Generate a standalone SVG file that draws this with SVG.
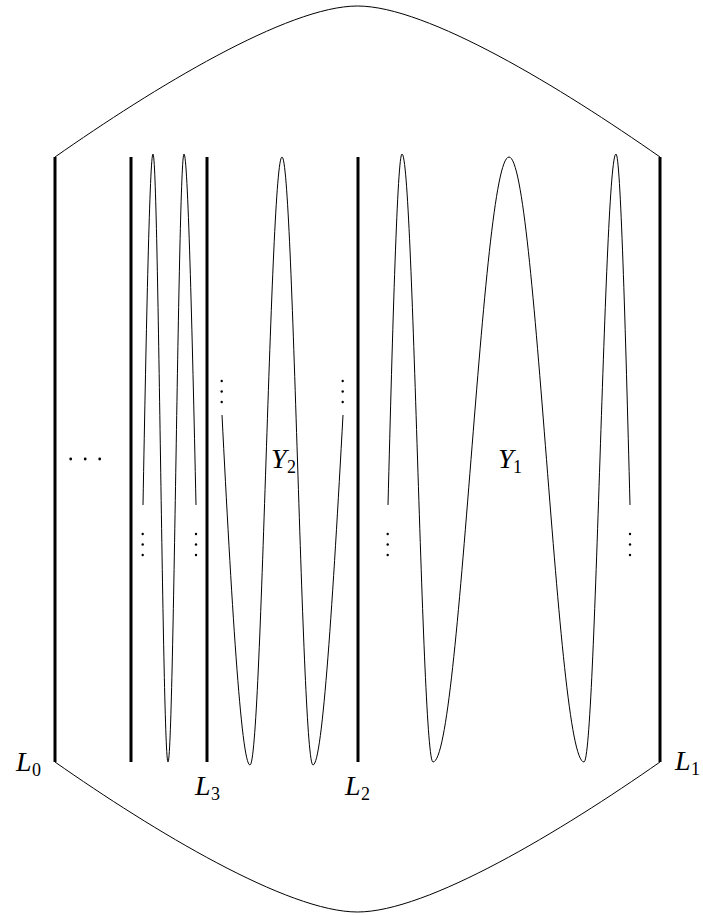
<svg xmlns="http://www.w3.org/2000/svg" width="703" height="915" viewBox="0 0 703 915">
<style>
.thick{stroke:#000;stroke-width:3;fill:none}
.thin{stroke:#000;stroke-width:1;fill:none}
.lab{font-family:"Liberation Serif","DejaVu Serif",serif;font-size:28px;font-style:italic;fill:#000}
.sub{font-family:"Liberation Serif","DejaVu Serif",serif;font-size:18px;font-style:normal;fill:#000}
.dot{fill:#000}
</style>
<rect width="703" height="915" fill="#fff"/>
<g id="connectors">
<path class="thin" d="M55,157 C153.3,88.2 287.5,6 357.5,6 C427.5,6 561.7,88.2 660,157"/>
<path class="thin" d="M55,762 C153.3,830.8 287.5,912 357.5,912 C427.5,912 561.7,830.8 660,762"/>
</g>
<g id="L0"><line class="thick" x1="55" y1="157" x2="55" y2="762"/><text class="lab"><tspan x="16" y="771">L</tspan><tspan class="sub" x="32" y="776">0</tspan></text></g>
<g id="Lx"><line class="thick" x1="131" y1="157" x2="131" y2="762"/></g>
<g id="L3"><line class="thick" x1="207" y1="157" x2="207" y2="762"/><text class="lab"><tspan x="195" y="795">L</tspan><tspan class="sub" x="211" y="800">3</tspan></text></g>
<g id="L2"><line class="thick" x1="358" y1="157" x2="358" y2="762"/><text class="lab"><tspan x="345" y="795">L</tspan><tspan class="sub" x="361" y="800">2</tspan></text></g>
<g id="L1"><line class="thick" x1="660" y1="157" x2="660" y2="762"/><text class="lab"><tspan x="675" y="770">L</tspan><tspan class="sub" x="691" y="775">1</tspan></text></g>
<g id="dots0">
<circle class="dot" cx="70.7" cy="459" r="1.4"/><circle class="dot" cx="85.2" cy="459" r="1.4"/><circle class="dot" cx="99.7" cy="459" r="1.4"/>
</g>
<g id="Y3">
<path class="thin" d="M143,505 C146.3,325.3 149.8,154 153,154 C158.5,154 162.5,762 168,762 C173.8,762 178.2,154 184,154 C187.8,154 192.1,325.3 196,505"/>
<circle class="dot" cx="142.7" cy="534" r="1.2"/><circle class="dot" cx="142.7" cy="544.5" r="1.2"/><circle class="dot" cx="142.7" cy="555" r="1.2"/>
<circle class="dot" cx="196" cy="534" r="1.2"/><circle class="dot" cx="196" cy="544.5" r="1.2"/><circle class="dot" cx="196" cy="555" r="1.2"/>
</g>
<g id="Y2">
<path class="thin" d="M222,415 C231.1,594.2 241.1,765 250,765 C261.6,765 270.4,157 282,157 C293.3,157 301.7,765 313,765 C322.6,765 333.2,594.2 343,415"/>
<circle class="dot" cx="221.7" cy="381" r="1.2"/><circle class="dot" cx="221.7" cy="391.5" r="1.2"/><circle class="dot" cx="221.7" cy="402" r="1.2"/>
<circle class="dot" cx="342.7" cy="381" r="1.2"/><circle class="dot" cx="342.7" cy="391.5" r="1.2"/><circle class="dot" cx="342.7" cy="402" r="1.2"/>
<text class="lab"><tspan x="271" y="468">Y</tspan><tspan class="sub" x="287" y="473">2</tspan></text>
</g>
<g id="Y1">
<path class="thin" d="M388,505 C392.6,325.3 397.5,154 402,154 C413.3,154 421.7,762 433,762 C460.6,762 481.4,157 509,157 C536.3,157 556.7,762 584,762 C595.6,762 604.4,154 616,154 C620.5,154 625.4,325.3 630,505"/>
<circle class="dot" cx="387.7" cy="534" r="1.2"/><circle class="dot" cx="387.7" cy="544.5" r="1.2"/><circle class="dot" cx="387.7" cy="555" r="1.2"/>
<circle class="dot" cx="630" cy="534" r="1.2"/><circle class="dot" cx="630" cy="544.5" r="1.2"/><circle class="dot" cx="630" cy="555" r="1.2"/>
<text class="lab"><tspan x="498" y="468">Y</tspan><tspan class="sub" x="513" y="473">1</tspan></text>
</g>
</svg>
